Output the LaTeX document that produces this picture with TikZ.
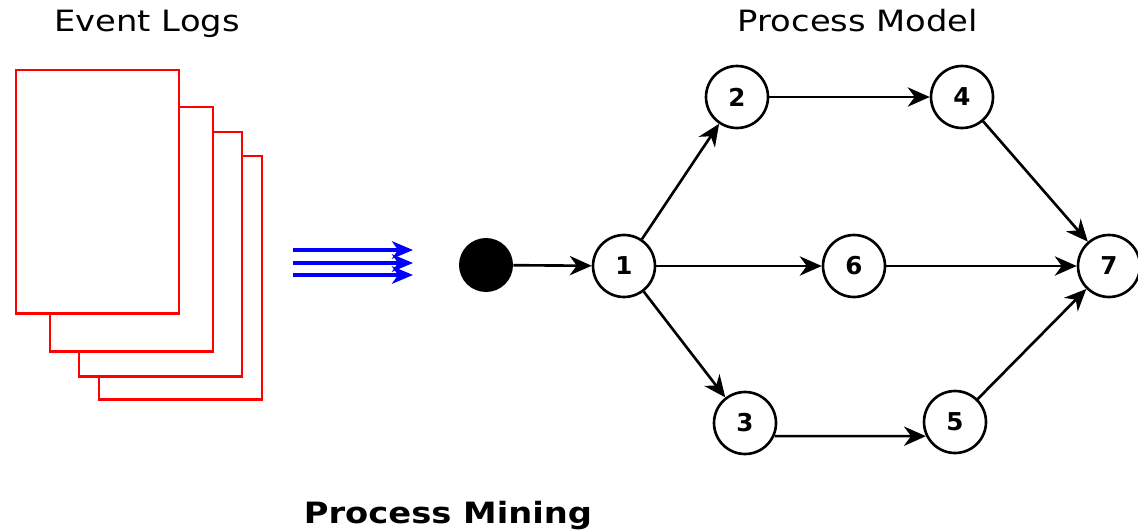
\documentclass[tikz,border=0pt]{standalone}
\usepackage{fontspec}
\setmainfont{DejaVu Sans}
\newfontfamily\headfont[FakeStretch=1.15]{DejaVu Sans}
\usepackage{tikz}
\usetikzlibrary{arrows.meta,positioning,calc}

\begin{document}
\begin{tikzpicture}[x=0.02cm, y=-0.02cm,
    state/.style={circle, draw, line width=1.5pt, minimum size=1.24cm, inner sep=0pt, font=\fontsize{14}{16}\selectfont\bfseries},
    start/.style={circle, fill=black, minimum size=1.08cm, inner sep=0pt},
    arrow/.style={-{Stealth[length=12.5pt, width=11pt, inset=4pt]}, line width=1.5pt},
    page/.style={draw=red, fill=white, line width=1.7pt},
    title/.style={anchor=base, font=\headfont\fontsize{16.7}{19}\selectfont}
  ]
    \useasboundingbox (0,0) rectangle (1138,531);

    % stack of log sheets, back to front
    \foreach \xa/\ya/\xb/\yb in {99/156/262/399, 79/132/242/376, 50/107/213/351, 16/70/179/313}
      \draw[page] (\xa,\ya) rectangle (\xb,\yb);

    % mining arrows
    \foreach \y in {250,263,275}
      \draw[blue, line width=1.8pt, -{Stealth[length=12pt, width=10pt, inset=3.5pt]}] (293,\y) -- (413,\y);

    \node[start] (init) at (486,265) {};
    \node[state] (s1) at (624,266) {1};
    \node[state] (s2) at (737,97) {2};
    \node[state] (s4) at (962,97) {4};
    \node[state] (s6) at (854,266) {6};
    \node[state] (s7) at (1109,266) {7};
    \node[state] (s3) at (745,423) {3};
    \node[state] (s5) at (955,422) {5};

    \draw[arrow] (init) -- (s1);
    \draw[arrow] (s1) -- (s2);
    \draw[arrow] (s1) -- (s6);
    \draw[arrow] (s1) -- (s3);
    \draw[arrow] (s2) -- (s4);
    \draw[arrow] (s3.-24) -- (s5.206);
    \draw[arrow] (s4) -- (s7);
    \draw[arrow] (s6) -- (s7);
    \draw[arrow] (s5) -- (s7);

    \node[title] (logs) at (147,31) {Event Logs};
    \node[title] (model) at (858,31) {Process Model};
    \node[title, font=\headfont\fontsize{16.7}{19}\selectfont\bfseries] (mining) at (448,523) {Process Mining};
\end{tikzpicture}
\end{document}
